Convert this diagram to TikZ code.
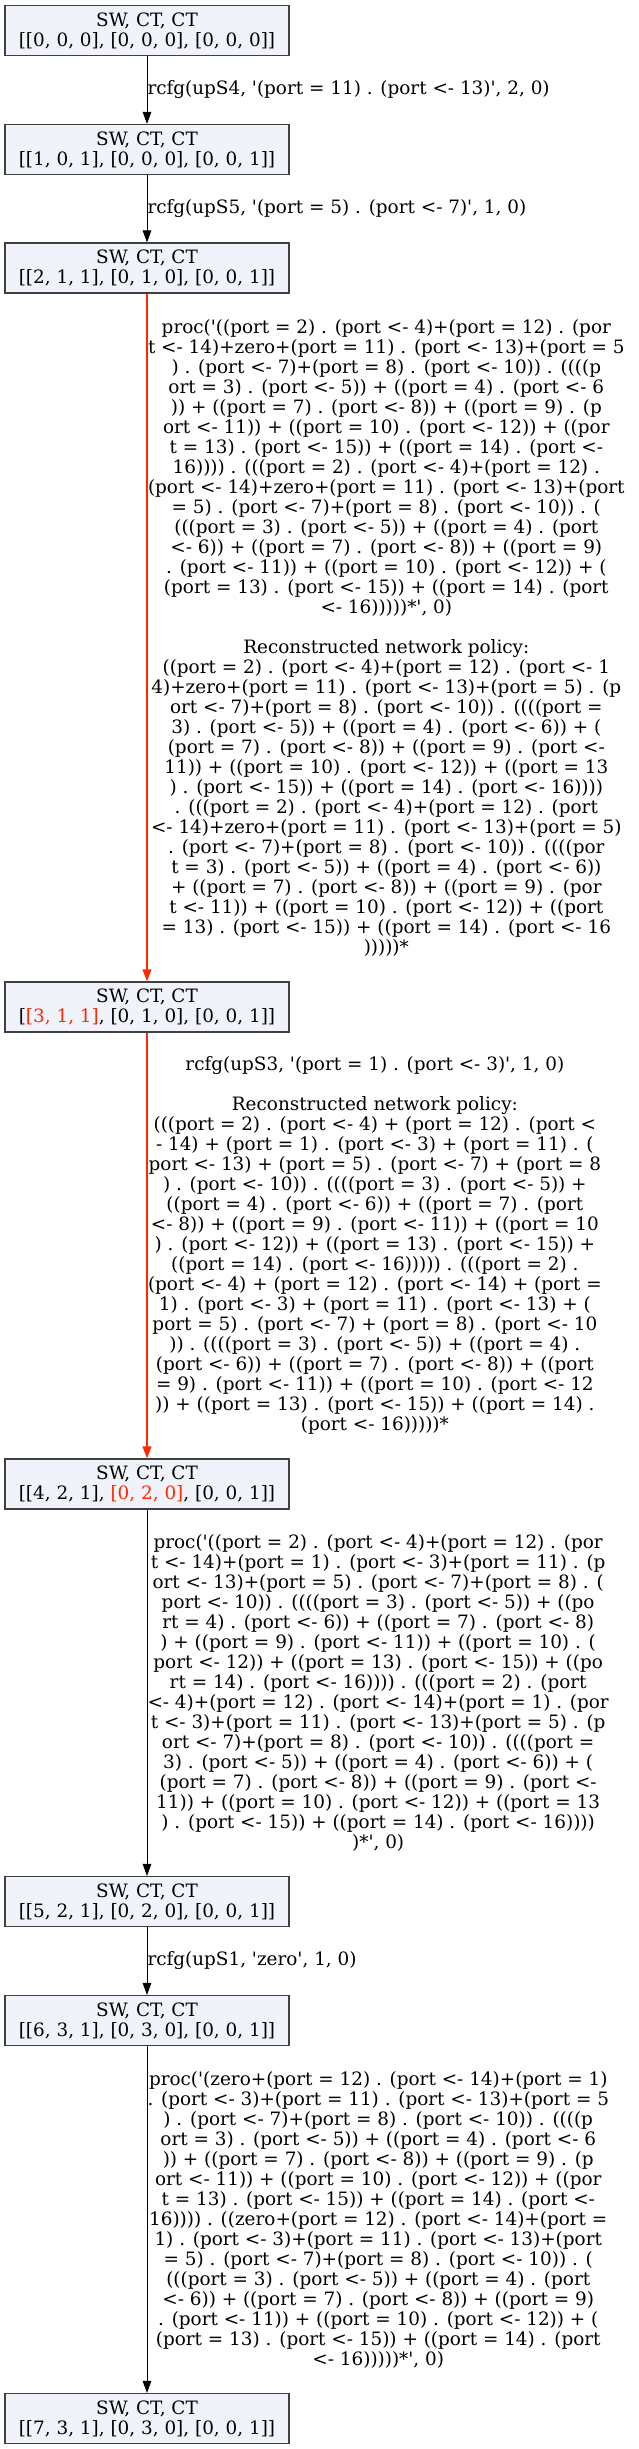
\documentclass[tikz,border=0pt]{standalone}
\usepackage{fontspec}
\setmainfont{DejaVu Serif}[Ligatures=TeXOff]
\usetikzlibrary{arrows.meta}
\definecolor{gvred}{RGB}{255,40,0}
\definecolor{nodefill}{RGB}{240,243,250}
\definecolor{nodeborder}{RGB}{64,64,64}
\begin{document}
\begin{tikzpicture}[x=1pt,y=-1pt,
  font=\fontsize{18.4}{20}\selectfont,
  state/.style={draw=nodeborder, fill=nodefill, line width=1.1pt, minimum width=284pt, minimum height=50pt, inner sep=0pt, align=center},
  edge/.style={-{Triangle[length=12pt,width=8.5pt]}, line width=1pt, black},
  rededge/.style={-{Triangle[length=12pt,width=8.5pt]}, line width=2pt, gvred},
  lab/.style={anchor=west, inner sep=0pt, align=center, text=black}]
\useasboundingbox (0,0) rectangle (638,2449);

\node[state] (n1) at (147,30.5) {SW, CT, CT\\{}[[0, 0, 0], [0, 0, 0], [0, 0, 0]]};
\node[state] (n2) at (147,149.5) {SW, CT, CT\\{}[[1, 0, 1], [0, 0, 0], [0, 0, 1]]};
\node[state] (n3) at (147,268) {SW, CT, CT\\{}[[2, 1, 1], [0, 1, 0], [0, 0, 1]]};
\node[state] (n4) at (147,1007) {SW, CT, CT\\{}[{\color{gvred}[3, 1, 1]}, [0, 1, 0], [0, 0, 1]]};
\node[state] (n5) at (147,1484) {SW, CT, CT\\{}[[4, 2, 1], {\color{gvred}[0, 2, 0]}, [0, 0, 1]]};
\node[state] (n6) at (147,1901.5) {SW, CT, CT\\{}[[5, 2, 1], [0, 2, 0], [0, 0, 1]]};
\node[state] (n7) at (147,2020.5) {SW, CT, CT\\{}[[6, 3, 1], [0, 3, 0], [0, 0, 1]]};
\node[state] (n8) at (147,2418.5) {SW, CT, CT\\{}[[7, 3, 1], [0, 3, 0], [0, 0, 1]]};

\draw[edge] (n1) -- (n2) node[lab, midway] (l1) {rcfg(upS4, '(port = 11) . (port <- 13)', 2, 0)};
\draw[edge] (n2) -- (n3) node[lab, midway] (l2) {rcfg(upS5, '(port = 5) . (port <- 7)', 1, 0)};
\draw[rededge] (n3) -- (n4) node[lab, midway] (l3) {proc('((port = 2) . (port <- 4)+(port = 12) . (por\\
t <- 14)+zero+(port = 11) . (port <- 13)+(port = 5\\
) . (port <- 7)+(port = 8) . (port <- 10)) . ((((p\\
ort = 3) . (port <- 5)) + ((port = 4) . (port <- 6\\
)) + ((port = 7) . (port <- 8)) + ((port = 9) . (p\\
ort <- 11)) + ((port = 10) . (port <- 12)) + ((por\\
t = 13) . (port <- 15)) + ((port = 14) . (port <-\\
16)))) . (((port = 2) . (port <- 4)+(port = 12) .\\
(port <- 14)+zero+(port = 11) . (port <- 13)+(port\\
= 5) . (port <- 7)+(port = 8) . (port <- 10)) . (\\
(((port = 3) . (port <- 5)) + ((port = 4) . (port\\
<- 6)) + ((port = 7) . (port <- 8)) + ((port = 9)\\
. (port <- 11)) + ((port = 10) . (port <- 12)) + (\\
(port = 13) . (port <- 15)) + ((port = 14) . (port\\
<- 16)))))*', 0)\\
\strut\\
Reconstructed network policy:\\
((port = 2) . (port <- 4)+(port = 12) . (port <- 1\\
4)+zero+(port = 11) . (port <- 13)+(port = 5) . (p\\
ort <- 7)+(port = 8) . (port <- 10)) . ((((port =\\
3) . (port <- 5)) + ((port = 4) . (port <- 6)) + (\\
(port = 7) . (port <- 8)) + ((port = 9) . (port <-\\
11)) + ((port = 10) . (port <- 12)) + ((port = 13\\
) . (port <- 15)) + ((port = 14) . (port <- 16))))\\
. (((port = 2) . (port <- 4)+(port = 12) . (port\\
<- 14)+zero+(port = 11) . (port <- 13)+(port = 5)\\
. (port <- 7)+(port = 8) . (port <- 10)) . ((((por\\
t = 3) . (port <- 5)) + ((port = 4) . (port <- 6))\\
+ ((port = 7) . (port <- 8)) + ((port = 9) . (por\\
t <- 11)) + ((port = 10) . (port <- 12)) + ((port\\
= 13) . (port <- 15)) + ((port = 14) . (port <- 16\\
)))))*};
\draw[rededge] (n4) -- (n5) node[lab, midway] (l4) {rcfg(upS3, '(port = 1) . (port <- 3)', 1, 0)\\
\strut\\
Reconstructed network policy:\\
(((port = 2) . (port <- 4) + (port = 12) . (port <\\
- 14) + (port = 1) . (port <- 3) + (port = 11) . (\\
port <- 13) + (port = 5) . (port <- 7) + (port = 8\\
) . (port <- 10)) . ((((port = 3) . (port <- 5)) +\\
((port = 4) . (port <- 6)) + ((port = 7) . (port\\
<- 8)) + ((port = 9) . (port <- 11)) + ((port = 10\\
) . (port <- 12)) + ((port = 13) . (port <- 15)) +\\
((port = 14) . (port <- 16))))) . (((port = 2) .\\
(port <- 4) + (port = 12) . (port <- 14) + (port =\\
1) . (port <- 3) + (port = 11) . (port <- 13) + (\\
port = 5) . (port <- 7) + (port = 8) . (port <- 10\\
)) . ((((port = 3) . (port <- 5)) + ((port = 4) .\\
(port <- 6)) + ((port = 7) . (port <- 8)) + ((port\\
= 9) . (port <- 11)) + ((port = 10) . (port <- 12\\
)) + ((port = 13) . (port <- 15)) + ((port = 14) .\\
(port <- 16)))))*};
\draw[edge] (n5) -- (n6) node[lab, midway] (l5) {proc('((port = 2) . (port <- 4)+(port = 12) . (por\\
t <- 14)+(port = 1) . (port <- 3)+(port = 11) . (p\\
ort <- 13)+(port = 5) . (port <- 7)+(port = 8) . (\\
port <- 10)) . ((((port = 3) . (port <- 5)) + ((po\\
rt = 4) . (port <- 6)) + ((port = 7) . (port <- 8)\\
) + ((port = 9) . (port <- 11)) + ((port = 10) . (\\
port <- 12)) + ((port = 13) . (port <- 15)) + ((po\\
rt = 14) . (port <- 16)))) . (((port = 2) . (port\\
<- 4)+(port = 12) . (port <- 14)+(port = 1) . (por\\
t <- 3)+(port = 11) . (port <- 13)+(port = 5) . (p\\
ort <- 7)+(port = 8) . (port <- 10)) . ((((port =\\
3) . (port <- 5)) + ((port = 4) . (port <- 6)) + (\\
(port = 7) . (port <- 8)) + ((port = 9) . (port <-\\
11)) + ((port = 10) . (port <- 12)) + ((port = 13\\
) . (port <- 15)) + ((port = 14) . (port <- 16))))\\
)*', 0)};
\draw[edge] (n6) -- (n7) node[lab, midway] (l6) {rcfg(upS1, 'zero', 1, 0)};
\draw[edge] (n7) -- (n8) node[lab, midway] (l7) {proc('(zero+(port = 12) . (port <- 14)+(port = 1)\\
. (port <- 3)+(port = 11) . (port <- 13)+(port = 5\\
) . (port <- 7)+(port = 8) . (port <- 10)) . ((((p\\
ort = 3) . (port <- 5)) + ((port = 4) . (port <- 6\\
)) + ((port = 7) . (port <- 8)) + ((port = 9) . (p\\
ort <- 11)) + ((port = 10) . (port <- 12)) + ((por\\
t = 13) . (port <- 15)) + ((port = 14) . (port <-\\
16)))) . ((zero+(port = 12) . (port <- 14)+(port =\\
1) . (port <- 3)+(port = 11) . (port <- 13)+(port\\
= 5) . (port <- 7)+(port = 8) . (port <- 10)) . (\\
(((port = 3) . (port <- 5)) + ((port = 4) . (port\\
<- 6)) + ((port = 7) . (port <- 8)) + ((port = 9)\\
. (port <- 11)) + ((port = 10) . (port <- 12)) + (\\
(port = 13) . (port <- 15)) + ((port = 14) . (port\\
<- 16)))))*', 0)};
\end{tikzpicture}
\end{document}
